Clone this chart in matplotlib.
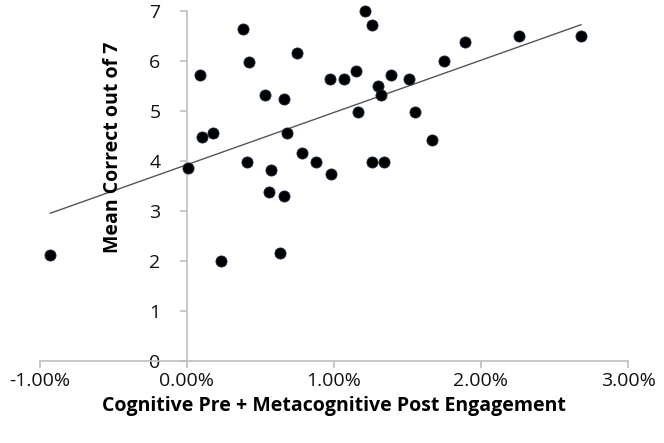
import numpy as np
import matplotlib
matplotlib.use("Agg")
import matplotlib.pyplot as plt
from matplotlib.ticker import PercentFormatter

# engagement (fraction) vs mean correct out of 7
engagement = [-0.0093, 0.0001, 0.0009, 0.0010, 0.0018, 0.0023, 0.0038, 0.0042,
              0.0041, 0.0053, 0.0056, 0.0057, 0.0063, 0.0066, 0.0066, 0.0068,
              0.0075, 0.0078, 0.0088, 0.0097, 0.0098, 0.0107, 0.0115, 0.0116,
              0.0121, 0.0126, 0.0126, 0.0130, 0.0132, 0.0134, 0.0139, 0.0151,
              0.0155, 0.0167, 0.0175, 0.0189, 0.0226, 0.0268]
mean_correct = [2.13, 3.86, 5.73, 4.49, 4.57, 2.01, 6.65, 5.99,
                3.99, 5.33, 3.39, 3.82, 2.16, 5.24, 3.30, 4.57,
                6.16, 4.15, 3.99, 5.65, 3.75, 5.65, 5.81, 4.99,
                7.00, 6.73, 3.98, 5.50, 5.33, 3.98, 5.73, 5.65,
                4.99, 4.43, 6.00, 6.39, 6.50, 6.50]

x = np.array(engagement)
y = np.array(mean_correct)

plt.rcParams['font.family'] = ['Open Sans', 'DejaVu Sans']
plt.rcParams['axes.unicode_minus'] = False

fig = plt.figure(figsize=(6.64, 4.43), dpi=100)
ax = fig.add_axes([40/664, 82/443, 588/664, 350/443])

ax.plot(x, y, 'o', color='black', ms=8, mec='#1c2a44', mew=0.6, zorder=3,
        clip_on=False)

# linear trendline
k, b = np.polyfit(x, y, 1)
xs = np.array([x.min(), x.max()])
ax.plot(xs, k*xs + b, color='#555555', lw=1.0, zorder=2)

ax.set_xlim(-0.01, 0.03)
ax.set_ylim(0, 7)
ax.set_xticks([-0.01, 0.0, 0.01, 0.02, 0.03])
ax.set_yticks(range(8))
ax.xaxis.set_major_formatter(PercentFormatter(xmax=1, decimals=2))

for s in ['top', 'right']:
    ax.spines[s].set_visible(False)
ax.spines['left'].set_position(('data', 0))
for s in ['left', 'bottom']:
    ax.spines[s].set_color('#bfbfbf')
    ax.spines[s].set_linewidth(1.2)
ax.tick_params(axis='both', colors='#bfbfbf', length=5, width=1.2, labelsize=14,
               labelcolor='#111111')
ax.tick_params(axis='x', pad=3)
ax.tick_params(axis='y', pad=14)

ax.set_xlabel('Cognitive Pre + Metacognitive Post Engagement', fontsize=14,
              fontweight='bold', labelpad=4)
fig.text(113/664, 1 - 147/443, 'Mean Correct out of 7', rotation=90, fontsize=14,
         fontweight='bold', ha='center', va='center')

fig.savefig('out.png', dpi=100)
